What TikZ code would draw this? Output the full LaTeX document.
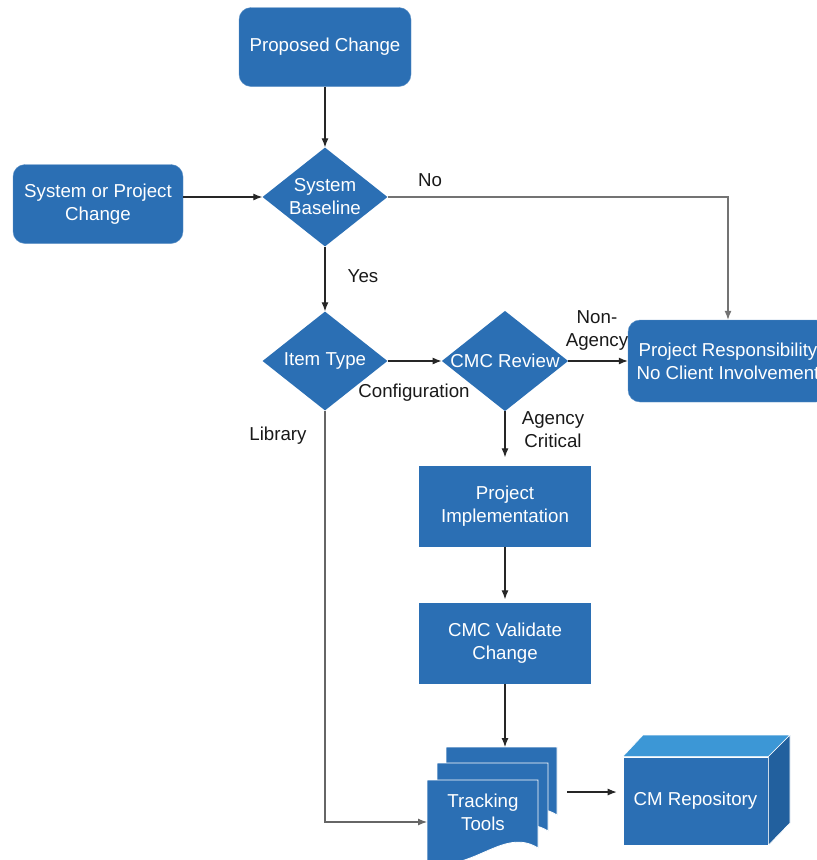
\documentclass[tikz,border=0pt]{standalone}
\usepackage{fontspec}
\setmainfont{Liberation Sans}
\usetikzlibrary{positioning,shapes.geometric,arrows.meta}
\definecolor{flowblue}{HTML}{2B6FB4}
\definecolor{flowtop}{HTML}{3C97D6}
\definecolor{flowside}{HTML}{22609E}
\definecolor{flowline}{HTML}{262626}

\tikzset{
  rbox/.style={draw=flowblue!75!white, fill=flowblue, rounded corners=12pt, text=white,
    align=center, minimum width=172pt, minimum height=79pt, inner sep=0pt},
  sbox/.style={fill=flowblue, text=white, align=center, minimum width=172pt,
    minimum height=81pt, inner sep=0pt},
  decision/.style={diamond, fill=flowblue, text=white, align=center, aspect=1.26,
    minimum width=125pt, minimum height=99pt, inner sep=0pt},
  flow/.style={draw=flowline, line width=1.1pt, -{Latex[length=9pt,width=7pt]}},
  lbl/.style={text=black!90, align=center, inner sep=0pt},
  page/.style={fill=flowblue, draw=white, line width=0.8pt},
}

\begin{document}
\begin{tikzpicture}[x=1pt, y=-1pt, font=\fontsize{18.7}{23}\selectfont]
\useasboundingbox (0,0) rectangle (817,860);
\clip (0,0) rectangle (817,860);

\def\xa{98}
\def\xb{325}
\def\xc{505}
\def\xd{728}

\def\ya{47}
\def\yb{197}
\def\yc{361}
\def\yd{506}
\def\ye{643}

\node[rbox] (pc) at (\xb, \ya) {Proposed Change};
\node[rbox, minimum width=170pt] (spc) at (\xa, 204) {System or Project\\Change};
\node[decision] (sb) at (\xb, \yb) {System\\Baseline};
\node[decision] (it) at (\xb, \yc) {Item Type};
\node[decision] (cmc) at (\xc, \yc) {CMC Review};
\node[rbox, minimum width=200pt, minimum height=82pt] (pr) at (\xd, \yc)
  {Project Responsibility\\No Client Involvement};
\node[sbox] (pi) at (\xc, \yd) {Project\\Implementation};
\node[sbox] (cv) at (\xc, \ye) {CMC Validate\\Change};

% tracking tools, three pages
\def\trackpage#1#2{
  \path[page] (#1, #2) -- ++(111, 0) -- ++(0, 68)
    .. controls +(-35, -22) and +(45, 12) .. ++(-111, 14) -- cycle;
}
\trackpage{446}{747}
\trackpage{437}{763}
\trackpage{427}{780}
\node[text=white, align=center, inner sep=0pt] (tt) at (483, 812) {Tracking\\Tools};
\coordinate (tttop) at (503, 747);
\coordinate (ttin) at (427, 822);
\coordinate (ttout) at (567, 792);

% repository cube
\node[fill=flowblue, draw=white, line width=0.6pt, text=white, minimum width=145pt,
  minimum height=88pt, inner sep=0pt] (cm) at (695.5, 801) {CM Repository};
\path[fill=flowtop, draw=white, line width=0.6pt]
  (cm.north west) -- (643, 735) -- (790, 735) -- (cm.north east) -- cycle;
\path[fill=flowside, draw=white, line width=0.6pt]
  (cm.north east) -- (790, 735) -- (790, 823) -- (cm.south east) -- cycle;

% connectors
\draw[flow] (pc) -- (sb);
\draw[flow] (spc.east |- sb.west) -- (sb.west);
\draw[flow, draw=black!55] (sb.east) -| (pr.north);
\draw[flow] (sb) -- (it);
\draw[flow] (it) -- (cmc);
\draw[flow] (cmc) -- (pr);
\draw[flow, shorten >=8pt] (cmc) -- (pi);
\draw[flow, shorten >=3pt] (pi) -- (cv);
\draw[flow] (cv.south) -- (cv.south |- tttop);
\draw[flow, draw=black!60] (it.south) |- (ttin);
\draw[flow, shorten >=6pt] (ttout) -- (cm.west |- ttout);

% labels
\node[lbl] (lno) at (430, 180) {No};
\node[lbl] (lyes) at (363, 276) {Yes};
\node[lbl] (lconf) at (414, 393) {Configuration};
\node[lbl] (lnon) at (597, 331) {Non-\\Agency};
\node[lbl] (lcrit) at (553, 430) {Agency\\Critical};
\node[lbl] (llib) at (278, 436) {Library};

\end{tikzpicture}
\end{document}
